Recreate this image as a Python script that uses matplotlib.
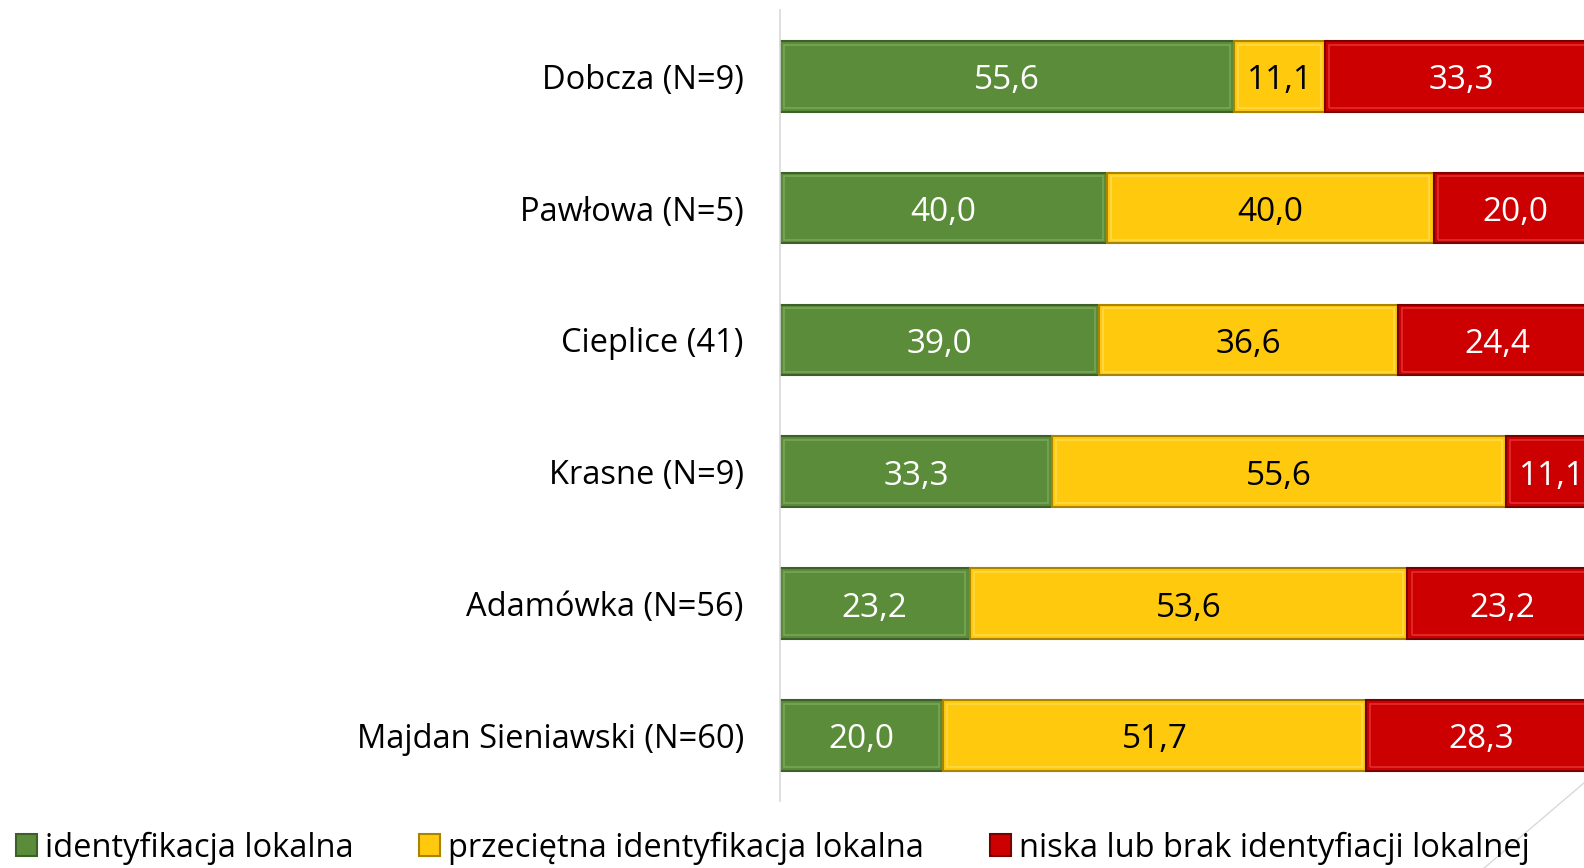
import numpy as np
import matplotlib.pyplot as plt
from matplotlib.lines import Line2D

places = ["Dobcza (N=9)", "Pawłowa (N=5)", "Cieplice (41)", "Krasne (N=9)",
          "Adamówka (N=56)", "Majdan Sieniawski (N=60)"]
high = [55.6, 40.0, 39.0, 33.3, 23.2, 20.0]
mid = [11.1, 40.0, 36.6, 55.6, 53.6, 51.7]
low = [33.3, 20.0, 24.4, 11.1, 23.2, 28.3]
series_names = ["identyfikacja lokalna", "przeciętna identyfikacja lokalna",
                "niska lub brak identyfiacji lokalnej"]

colors = ["#5B8C3A", "#FFC90E", "#CC0000"]
edges = ["#3E5F28", "#A88400", "#7A0000"]
highlights = ["#7FAE5C", "#FFDD55", "#E83A3A"]
text_colors = ["white", "black", "white"]

plt.rcParams['font.family'] = ['Open Sans', 'DejaVu Sans']

fig = plt.figure(figsize=(15.84, 8.68), dpi=100)
ax = fig.add_axes([0.4924, 0.077, 0.5158, 0.911])

y = np.arange(len(places))[::-1]
left = np.zeros(len(places))
for vals, c, ec, hc, tc in zip([high, mid, low], colors, edges, highlights, text_colors):
    vals = np.array(vals)
    ax.barh(y, vals, left=left, height=0.535, color=c, edgecolor=ec, linewidth=1.5)
    # thin inner highlight for a soft bevel look
    ax.barh(y, vals - 1.0, left=left + 0.5, height=0.48, fill=False,
            edgecolor=hc, linewidth=1.2, alpha=0.8)
    for yy, l, v in zip(y, left, vals):
        ax.text(l + v / 2, yy - 0.1, f"{v:.1f}".replace(".", ","), ha="center",
                va="baseline", color=tc, fontsize=24)
    left += vals

ax.set_xlim(0, 100)
ax.set_ylim(-0.5, 5.5)
ax.set_yticks(y)
ax.set_yticklabels(places, fontsize=23.5)
ax.tick_params(axis="y", length=0, pad=26)
ax.set_xticks([])
for s in ["top", "right", "bottom"]:
    ax.spines[s].set_visible(False)
ax.spines["left"].set_color("#D9D9D9")
ax.spines["left"].set_linewidth(1.2)

handles = [plt.Rectangle((0, 0), 1, 1, facecolor=c, edgecolor=ec, linewidth=1.5)
           for c, ec in zip(colors, edges)]
fig.legend(handles, series_names, loc="lower left", bbox_to_anchor=(0.010, 0.004), ncol=3,
           frameon=False, fontsize=23.5, handlelength=0.65, handleheight=0.65,
           handletextpad=0.25, columnspacing=2.0, borderpad=0, borderaxespad=0)

fig.add_artist(Line2D([0.937, 1.0], [0.0, 0.098], transform=fig.transFigure,
                      color="#D9D9D9", linewidth=1))

plt.savefig("out.png", dpi=100)
